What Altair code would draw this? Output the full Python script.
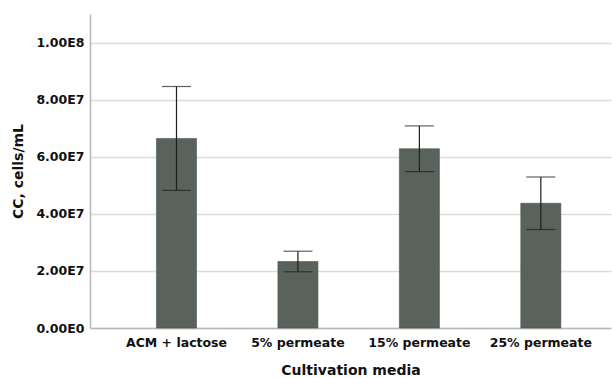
import altair as alt
import pandas as pd

media = ["ACM + lactose", "5% permeate", "15% permeate", "25% permeate"]
mean_cc = [6.64e7, 2.33e7, 6.28e7, 4.37e7]
err_cc = [1.82e7, 0.36e7, 0.80e7, 0.92e7]

df = pd.DataFrame({
    "media": media,
    "cc": mean_cc,
    "lo": [m - e for m, e in zip(mean_cc, err_cc)],
    "hi": [m + e for m, e in zip(mean_cc, err_cc)],
})

font = "DejaVu Sans"
x_enc = alt.X(
    "media:N",
    sort=media,
    scale=alt.Scale(paddingInner=0.67, paddingOuter=0.48, align=0.57),
    axis=alt.Axis(
        title="Cultivation media",
        labelAngle=0,
        labelFont=font, labelFontSize=12.5, labelFontWeight="bold", labelColor="#111",
        titleFont=font, titleFontSize=14, titleFontWeight="bold", titleColor="#111",
        labelPadding=8, titlePadding=15, ticks=False,
        domainColor="#b8b8b8", domainWidth=1.5,
    ),
)

y_scale = alt.Scale(domain=[0, 1.1e8], nice=False)
y_axis = alt.Axis(
    title="CC, cells/mL",
    values=[0, 2e7, 4e7, 6e7, 8e7, 1e8],
    labelExpr="replace(format(datum.value, '.2e'), 'e+', 'E')",
    labelFont=font, labelFontSize=12.5, labelFontWeight="bold", labelColor="#111",
    titleFont=font, titleFontSize=14, titleFontWeight="bold", titleColor="#111",
    ticks=False, labelPadding=6, titlePadding=10,
    domainColor="#b8b8b8", domainWidth=1.5,
    grid=True, gridColor="#dcdcdc", gridWidth=1.5,
)

bars = alt.Chart(df).mark_bar(color="#5a625c", stroke="#4e5550", strokeWidth=0.6).encode(
    x=x_enc,
    y=alt.Y("cc:Q", scale=y_scale, axis=y_axis),
)

whisker = alt.Chart(df).mark_rule(color="#1e1e1e", strokeWidth=1.2).encode(
    x=alt.X("media:N", sort=media),
    y=alt.Y("lo:Q"),
    y2="hi:Q",
)

caps_hi = alt.Chart(df).mark_tick(color="#1e1e1e", thickness=1.2, size=29, orient="horizontal").encode(
    x=alt.X("media:N", sort=media),
    y=alt.Y("hi:Q"),
)
caps_lo = alt.Chart(df).mark_tick(color="#1e1e1e", thickness=1.2, size=29, orient="horizontal").encode(
    x=alt.X("media:N", sort=media),
    y=alt.Y("lo:Q"),
)

chart = alt.layer(bars, whisker, caps_hi, caps_lo).properties(
    width=521,
    height=314,
    background="white",
    autosize=alt.AutoSizeParams(type="none"),
    padding={"left": 90, "top": 14, "right": 1, "bottom": 50},
).configure_view(strokeWidth=0)

chart.save("out.html", embed_options={"renderer": "svg", "actions": False})
